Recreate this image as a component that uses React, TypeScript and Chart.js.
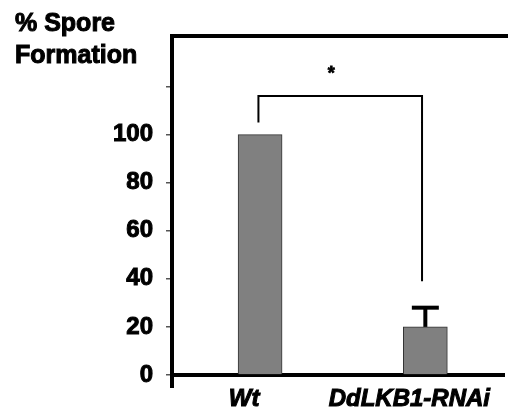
import React, { useEffect, useRef } from "react";
import { Chart, registerables } from "chart.js";

Chart.register(...registerables);

// ---- data ----
const categories = ["Wt", "DdLKB1-RNAi"];
const sporeFormation = [100, 20];
const errorUpper = [100, 28];
const showError = [false, true];
const yTickValues = [0, 20, 40, 60, 80, 100, 120];
const yLabelMax = 100;
const yMax = 141;
const titleLines = ["% Spore", "Formation"];
// significance bracket (x in category units, y in %)
const bracketX = [-0.01, 0.98];
const bracketTop = 116;
const bracketEnds = [105, 39];
const asteriskPos = [0.43, 127];

const FONT = "'Liberation Sans', Arial, Helvetica, sans-serif";

const annotPlugin = {
  id: "annot",
  afterDatasetsDraw(chart: any) {
    const { ctx, scales, chartArea } = chart;
    const x = scales.x;
    const y = scales.y;
    ctx.save();
    ctx.strokeStyle = "#000";
    // error bars
    categories.forEach((_, i) => {
      if (!showError[i]) return;
      const cx = x.getPixelForValue(i);
      const y0 = y.getPixelForValue(sporeFormation[i]);
      const y1 = y.getPixelForValue(errorUpper[i]);
      ctx.lineWidth = 4;
      ctx.beginPath();
      ctx.moveTo(cx, y0);
      ctx.lineTo(cx, y1);
      ctx.stroke();
      ctx.beginPath();
      ctx.moveTo(cx - 13.5, y1);
      ctx.lineTo(cx + 13.5, y1);
      ctx.stroke();
    });
    // bracket
    const bx0 = x.getPixelForValue(bracketX[0]);
    const bx1 = x.getPixelForValue(bracketX[1]);
    const by = y.getPixelForValue(bracketTop);
    ctx.lineWidth = 2;
    ctx.beginPath();
    ctx.moveTo(bx0, y.getPixelForValue(bracketEnds[0]));
    ctx.lineTo(bx0, by);
    ctx.lineTo(bx1, by);
    ctx.lineTo(bx1, y.getPixelForValue(bracketEnds[1]));
    ctx.stroke();
    // asterisk
    ctx.fillStyle = "#000";
    ctx.font = `bold 18px ${FONT}`;
    ctx.textAlign = "center";
    ctx.textBaseline = "middle";
    ctx.lineWidth = 0.8;
    const ax = x.getPixelForValue(asteriskPos[0]);
    const ay = y.getPixelForValue(asteriskPos[1]) + 4;
    ctx.fillText("*", ax, ay);
    ctx.strokeText("*", ax, ay);
    // frame top line
    ctx.lineWidth = 4;
    ctx.beginPath();
    ctx.moveTo(chartArea.left - 2, chartArea.top);
    ctx.lineTo(chart.width, chartArea.top);
    ctx.stroke();
    // left axis extension below x axis
    ctx.beginPath();
    ctx.moveTo(chartArea.left, chartArea.bottom - 2);
    ctx.lineTo(chartArea.left, chartArea.bottom + 13);
    ctx.stroke();
    // title
    ctx.font = `bold 25px ${FONT}`;
    ctx.textAlign = "left";
    ctx.textBaseline = "alphabetic";
    ctx.lineWidth = 1;
    ctx.fillText(titleLines[0], 15, 31);
    ctx.strokeText(titleLines[0], 15, 31);
    ctx.fillText(titleLines[1], 15, 63);
    ctx.strokeText(titleLines[1], 15, 63);
    ctx.restore();
  },
};

export default function App() {
  const ref = useRef<HTMLCanvasElement>(null);
  useEffect(() => {
    if (!ref.current) return;
    const chart = new Chart(ref.current, {
      type: "bar",
      data: {
        datasets: [
          {
            data: categories.map((_, i) => ({ x: i, y: sporeFormation[i] })),
            backgroundColor: "#808080",
            borderColor: "#333333",
            borderWidth: 1,
            barThickness: 44,
          },
        ],
      },
      options: {
        animation: false,
        responsive: false,
        layout: { padding: { top: 36, left: 0, right: 0, bottom: 0 } },
        plugins: { legend: { display: false }, tooltip: { enabled: false } },
        scales: {
          x: {
            type: "linear",
            offset: false,
            min: -0.533,
            max: 1.479,
            grid: { display: false },
            border: { display: true, color: "#000", width: 4 },
            afterBuildTicks: (s: any) => {
              s.ticks = categories.map((_, i) => ({ value: i }));
            },
            afterFit: (s: any) => {
              s.height = 37;
            },
            ticks: {
              callback: (v: any) => categories[v] ?? "",
              color: "#000",
              textStrokeColor: "#000",
              textStrokeWidth: 1,
              font: { family: FONT, size: 24, weight: "bold", style: "italic" },
              labelOffset: -16,
              padding: 2,
              maxRotation: 0,
              autoSkip: false,
            },
          },
          y: {
            min: 0,
            max: yMax,
            afterBuildTicks: (s: any) => {
              s.ticks = yTickValues.map((v) => ({ value: v }));
            },
            afterFit: (s: any) => {
              s.width = 172;
            },
            grid: {
              display: true,
              drawOnChartArea: false,
              drawTicks: true,
              tickLength: 6,
              color: "#555",
              lineWidth: 1.5,
            },
            border: { display: true, color: "#000", width: 4 },
            ticks: {
              callback: (v: any) => (v <= yLabelMax ? String(v) : ""),
              color: "#000",
              textStrokeColor: "#000",
              textStrokeWidth: 1,
              font: { family: FONT, size: 24, weight: "bold" },
              padding: 13,
            },
          },
        },
      },
      plugins: [annotPlugin],
    });
    return () => chart.destroy();
  }, []);
  return (
    <div style={{ position: "absolute", left: 0, top: 0, width: 508, height: 412, overflow: "hidden", background: "#fff" }}>
      <canvas ref={ref} width={508} height={412} style={{ width: 508, height: 412 }} />
    </div>
  );
}
